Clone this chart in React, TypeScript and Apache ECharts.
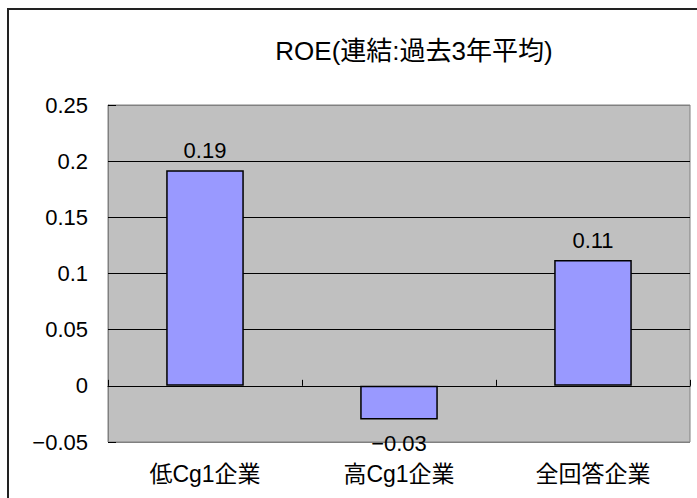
import React, { useEffect, useRef } from "react";
import * as echarts from "echarts";

const titleText = "ROE(連結:過去3年平均)";
const categories = ["低Cg1企業", "高Cg1企業", "全回答企業"];
const roeValues = [0.192, -0.03, 0.112];
const roeLabels = ["0.19", "−0.03", "0.11"];
const yMin = -0.05;
const yMax = 0.25;
const yStep = 0.05;

const FONT = '"Liberation Sans", "Noto Sans CJK JP", sans-serif';

export default function App() {
  const ref = useRef<HTMLDivElement>(null);
  useEffect(() => {
    if (!ref.current) return;
    const chart = echarts.init(ref.current, null, { renderer: "svg" });
    const splitColors = ["#808080", "#000", "#000", "#000", "#000", "#000", "#808080"];
    chart.setOption({
      animation: false,
      backgroundColor: "#fff",
      textStyle: { fontFamily: FONT },
      graphic: [
        {
          type: "rect",
          shape: { x: 8, y: 9, width: 800, height: 600 },
          style: { fill: "none", stroke: "#222", lineWidth: 2 },
          silent: true,
        },
        {
          type: "text",
          x: 414,
          y: 51,
          style: {
            text: titleText,
            fontSize: 26,
            fontFamily: FONT,
            fill: "#000",
            textAlign: "center",
            textVerticalAlign: "middle",
          },
        },
      ],
      grid: {
        left: 108,
        top: 105,
        right: 7,
        bottom: 56,
        show: true,
        backgroundColor: "#C0C0C0",
        borderColor: "#808080",
        borderWidth: 1,
      },
      xAxis: [
        {
          type: "category",
          data: categories,
          position: "bottom",
          axisLine: { show: false, onZero: false },
          axisTick: { show: false },
          axisLabel: {
            margin: 20,
            fontSize: 23,
            color: "#000",
            fontFamily: FONT,
          },
        },
        {
          type: "category",
          data: categories,
          position: "bottom",
          axisLine: { show: true, onZero: true, lineStyle: { color: "#000", width: 1 } },
          axisTick: { show: true, inside: true, length: 6, lineStyle: { color: "#000" } },
          axisLabel: { show: false },
        },
      ],
      yAxis: {
        type: "value",
        min: yMin,
        max: yMax,
        interval: yStep,
        axisLine: { show: true, lineStyle: { color: "#808080" } },
        axisTick: { show: true, inside: true, length: 8, lineStyle: { color: "#000" } },
        splitLine: { show: true, lineStyle: { color: splitColors, width: 1 } },
        axisLabel: {
          margin: 20,
          fontSize: 22,
          color: "#000",
          fontFamily: FONT,
          formatter: (v: number) => {
            const r = parseFloat(v.toFixed(2));
            return r < 0 ? "−" + String(-r) : String(r);
          },
        },
      },
      series: [
        {
          type: "bar",
          xAxisIndex: 0,
          barWidth: "40%",
          data: roeValues.map((v, i) => ({
            value: v,
            label: {
              show: true,
              position: v < 0 ? "bottom" : "top",
              distance: v < 0 ? 13 : 9,
              formatter: roeLabels[i],
              fontSize: 22,
              color: "#000",
              fontFamily: FONT,
            },
          })),
          itemStyle: { color: "#9999FF", borderColor: "#000", borderWidth: 1.5 },
        },
      ],
    });
    return () => chart.dispose();
  }, []);
  return (
    <div
      ref={ref}
      style={{ position: "fixed", left: 0, top: 0, width: 697, height: 498 }}
    />
  );
}
